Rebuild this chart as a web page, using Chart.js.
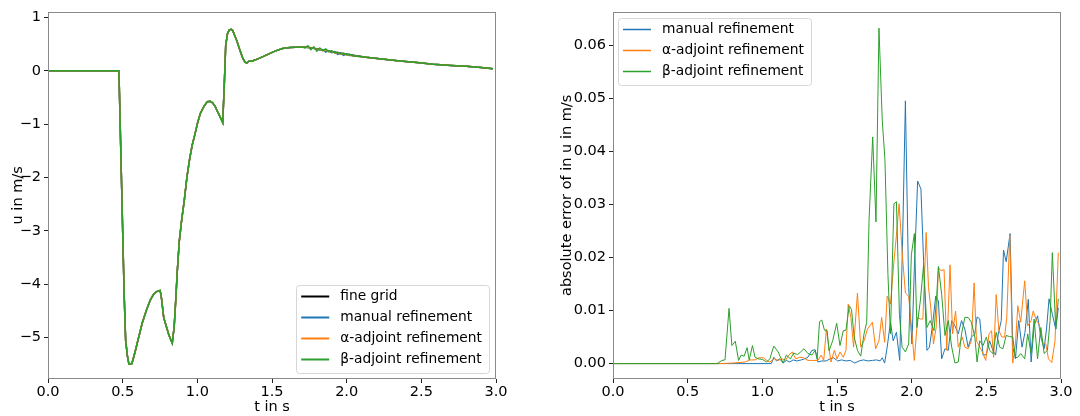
<!DOCTYPE html>
<html>
<head>
<meta charset="utf-8">
<script src="https://cdn.jsdelivr.net/npm/chart.js@4.4.1/dist/chart.umd.min.js"></script>
<style>
  html, body { margin: 0; padding: 0; background: #fff; }
  #wrap { width: 1080px; height: 416px; display: flex; }
  .panel { position: relative; width: 540px; height: 416px; }
</style>
</head>
<body>
<div id="wrap">
  <div class="panel"><canvas id="velChart" width="540" height="416"></canvas></div>
  <div class="panel"><canvas id="errChart" width="540" height="416"></canvas></div>
</div>
<script>
// ---- data: left panel, velocity u(t) [t in s, u in m/s] ----
const fineGrid = [
  [0, 0], [0.475, 0], [0.49, -1.8], [0.51, -4.2], [0.52, -5.06], [0.532, -5.35], [0.542, -5.5],
  [0.562, -5.49], [0.585, -5.25], [0.607, -5.0], [0.632, -4.72], [0.66, -4.48], [0.685, -4.3],
  [0.705, -4.2], [0.727, -4.14], [0.75, -4.12], [0.757, -4.2], [0.775, -4.63], [0.795, -4.82],
  [0.81, -4.96], [0.832, -5.11], [0.845, -4.8], [0.855, -4.32], [0.866, -3.75], [0.879, -3.2],
  [0.895, -2.8], [0.913, -2.42], [0.93, -2.0], [0.948, -1.66], [0.965, -1.4], [0.983, -1.2],
  [1.002, -0.97], [1.02, -0.8], [1.045, -0.66], [1.067, -0.58], [1.087, -0.57], [1.102, -0.6],
  [1.12, -0.67], [1.138, -0.78], [1.152, -0.86], [1.17, -0.97], [1.18, -0.3], [1.19, 0.48],
  [1.202, 0.7], [1.214, 0.77], [1.226, 0.78], [1.236, 0.76], [1.251, 0.66], [1.266, 0.55],
  [1.286, 0.38], [1.304, 0.24], [1.32, 0.16], [1.332, 0.15], [1.345, 0.18], [1.365, 0.18],
  [1.41, 0.23], [1.465, 0.3], [1.52, 0.37], [1.57, 0.42], [1.62, 0.44], [1.7, 0.45], [1.75, 0.44],
  [1.82, 0.4], [1.9, 0.36], [2.0, 0.31], [2.13, 0.255], [2.25, 0.22], [2.357, 0.185],
  [2.47, 0.155], [2.58, 0.125], [2.7, 0.1], [2.8, 0.085], [2.9, 0.065], [2.98, 0.04]
];
// the refined solutions only differ from the fine grid in the wiggly part after t = 1.7
const tailTimes  = [1.72, 1.74, 1.76, 1.78, 1.80, 1.82, 1.84, 1.86, 1.88, 1.90, 1.92, 1.94, 1.96, 1.98, 2.0, 2.02, 2.04];
const tailManual = [0.445, 0.44, 0.43, 0.425, 0.41, 0.39, 0.40, 0.35, 0.38, 0.34, 0.36, 0.31, 0.33, 0.29, 0.32, 0.29, 0.29];
const tailAlpha  = [0.44, 0.445, 0.425, 0.43, 0.40, 0.41, 0.38, 0.39, 0.36, 0.37, 0.33, 0.35, 0.31, 0.33, 0.30, 0.305, 0.285];
const tailBeta   = [0.43, 0.47, 0.40, 0.45, 0.37, 0.43, 0.38, 0.41, 0.36, 0.375, 0.34, 0.35, 0.32, 0.33, 0.305, 0.31, 0.285];

// ---- data: right panel, absolute error [t in s, error in m/s] ----
const manualError = [
  [0, 0], [1.06, 0], [1.077, 0.0012], [1.095, 0.0005], [1.117, 0.0009], [1.139, 0.0001], [1.161, 0.0006],
  [1.184, 0.0003], [1.206, 0.0007], [1.232, 0.0005], [1.261, 0.0007], [1.283, 0.0009], [1.305, 0.0012],
  [1.332, 0.0025], [1.354, 0.0026], [1.372, 0.0003], [1.398, 0.0005], [1.427, 0.0005], [1.454, 0.0009],
  [1.478, 0.0011], [1.504, 0.0005], [1.531, 0.0007], [1.56, 0.0005], [1.588, 0.0006], [1.619, 0.0001],
  [1.648, 0.0005], [1.677, 0.0007], [1.708, 0.0005], [1.737, 0.0006], [1.765, 0.0007], [1.788, 0.0005],
  [1.803, 0.0011], [1.819, 0.0001], [1.836, 0.0031], [1.858, 0.0078], [1.876, 0.0043], [1.898, 0.0059],
  [1.92, 0.0006], [1.94, 0.0242], [1.958, 0.0495], [1.98, 0.0143], [2.002, 0.0037], [2.018, 0.018],
  [2.04, 0.0344], [2.062, 0.0329], [2.08, 0.0192], [2.102, 0.0025], [2.119, 0.0031], [2.139, 0.0071],
  [2.161, 0.0127], [2.179, 0.0118], [2.201, 0.0009], [2.223, 0.0028], [2.245, 0.0025], [2.268, 0.0081],
  [2.29, 0.0071], [2.312, 0.0056], [2.334, 0.0081], [2.356, 0.0065], [2.378, 0.0031], [2.4, 0.005],
  [2.423, 0.0056], [2.438, 0.0088], [2.456, 0.0084], [2.478, 0.0016], [2.5, 0.0017], [2.522, 0.0043],
  [2.544, 0.0025], [2.562, 0.0016], [2.58, 0.0056], [2.6, 0.0081], [2.615, 0.0214], [2.633, 0.0192],
  [2.659, 0.0245], [2.677, 0.0031], [2.695, 0.0009], [2.717, 0.0081], [2.739, 0.0031], [2.759, 0.0059],
  [2.781, 0.0121], [2.8, 0.0003], [2.82, 0.0071], [2.843, 0.009], [2.865, 0.005], [2.887, 0.0028],
  [2.903, 0.0065], [2.92, 0.0122], [2.942, 0.0093], [2.965, 0.0065], [2.982, 0.0105]
];
const alphaError = [
  [0, 0], [0.708, 0], [0.8, 0.0001], [0.885, 0.0003], [0.918, 0.0007], [0.951, 0.0007], [0.978, 0.0011],
  [1.007, 0.0011], [1.029, 0.0006], [1.05, 0.0003], [1.08, 0.0009], [1.106, 0.0006], [1.133, 0.0009],
  [1.155, 0.0006], [1.177, 0.0016], [1.201, 0.0022], [1.223, 0.0009], [1.25, 0.0012], [1.276, 0.0011],
  [1.305, 0.0006], [1.338, 0.0006], [1.372, 0.0006], [1.394, 0.0016], [1.411, 0.0006], [1.429, 0.0065],
  [1.445, 0.0031], [1.46, 0.0003], [1.482, 0.0025], [1.5, 0.0009], [1.52, 0.0022], [1.542, 0.0012],
  [1.56, 0.0025], [1.575, 0.0112], [1.593, 0.0087], [1.611, 0.0031], [1.637, 0.0133], [1.659, 0.0031],
  [1.681, 0.0043], [1.704, 0.0065], [1.737, 0.0078], [1.759, 0.0028], [1.781, 0.0043], [1.799, 0.0087],
  [1.819, 0.004], [1.836, 0.0127], [1.858, 0.0112], [1.881, 0.0192], [1.898, 0.0242], [1.916, 0.0301],
  [1.936, 0.0211], [1.958, 0.0133], [1.98, 0.0127], [2.002, 0.0056], [2.018, 0.0006], [2.04, 0.0087],
  [2.058, 0.0084], [2.075, 0.0084], [2.097, 0.0247], [2.113, 0.0143], [2.128, 0.0105], [2.146, 0.0037],
  [2.164, 0.0068], [2.179, 0.0181], [2.197, 0.0175], [2.217, 0.0177], [2.235, 0.0025], [2.257, 0.0186],
  [2.274, 0.0056], [2.294, 0.0099], [2.312, 0.0031], [2.339, 0.005], [2.356, 0.0031], [2.378, 0.0028],
  [2.4, 0.0043], [2.418, 0.0152], [2.434, 0.0043], [2.451, 0.0034], [2.473, 0.0022], [2.496, 0.0006],
  [2.518, 0.0056], [2.535, 0.0062], [2.549, 0.0012], [2.566, 0.013], [2.584, 0.0062], [2.604, 0.005],
  [2.622, 0.005], [2.637, 0.0087], [2.657, 0.0242], [2.677, 0.0001], [2.695, 0.0037], [2.711, 0.0109],
  [2.73, 0.0078], [2.757, 0.0156], [2.777, 0.0071], [2.8, 0.0081], [2.814, 0.0099], [2.836, 0.0081],
  [2.854, 0.0074], [2.876, 0.004], [2.898, 0.0037], [2.916, 0.0009], [2.938, 0.0002], [2.96, 0.0043],
  [2.982, 0.0209]
];
const betaError = [
  [0, 0], [0.697, 0], [0.73, 0.0006], [0.75, 0.0007], [0.777, 0.0104], [0.796, 0.0034], [0.819, 0.0042],
  [0.841, 0.0006], [0.858, 0.0016], [0.878, 0.0014], [0.898, 0.003], [0.912, 0.0007], [0.934, 0.0034],
  [0.951, 0.0012], [0.973, 0.0009], [1.0, 0.0008], [1.029, 0.0003], [1.05, 0.0009], [1.077, 0.0033],
  [1.106, 0.0022], [1.139, 0.0001], [1.161, 0.0016], [1.188, 0.0009], [1.21, 0.002], [1.235, 0.0017],
  [1.257, 0.0022], [1.279, 0.0028], [1.305, 0.0019], [1.332, 0.0016], [1.354, 0.0025], [1.367, 0.0009],
  [1.383, 0.0079], [1.398, 0.0082], [1.416, 0.0063], [1.434, 0.0062], [1.447, 0.0024], [1.471, 0.0043],
  [1.498, 0.0076], [1.52, 0.0034], [1.542, 0.0062], [1.56, 0.0063], [1.582, 0.0109], [1.597, 0.0102],
  [1.615, 0.005], [1.637, 0.0025], [1.659, 0.0014], [1.681, 0.0056], [1.699, 0.0078], [1.715, 0.0273],
  [1.739, 0.0427], [1.761, 0.0267], [1.781, 0.0632], [1.803, 0.0459], [1.821, 0.0385], [1.841, 0.0168],
  [1.858, 0.0056], [1.881, 0.0301], [1.898, 0.0305], [1.918, 0.0093], [1.936, 0.0031], [1.958, 0.0022],
  [1.98, 0.0037], [1.998, 0.0205], [2.018, 0.0245], [2.035, 0.0068], [2.058, 0.0118], [2.08, 0.0186],
  [2.102, 0.0068], [2.124, 0.0081], [2.15, 0.0062], [2.168, 0.013], [2.179, 0.0183], [2.201, 0.013],
  [2.223, 0.0053], [2.245, 0.0081], [2.268, 0.0031], [2.29, 0.0001], [2.312, 0.0003], [2.334, 0.0056],
  [2.356, 0.0087], [2.378, 0.0087], [2.4, 0.0078], [2.423, 0.005], [2.438, 0.0003], [2.456, 0.0043],
  [2.478, 0.0034], [2.5, 0.005], [2.522, 0.0025], [2.544, 0.0019], [2.566, 0.0059], [2.589, 0.0031],
  [2.611, 0.0028], [2.633, 0.0053], [2.655, 0.0051], [2.677, 0.005], [2.695, 0.0011], [2.711, 0.0012],
  [2.73, 0.0019], [2.757, 0.0009], [2.777, 0.0056], [2.8, 0.0019], [2.82, 0.0084], [2.843, 0.0009],
  [2.865, 0.0068], [2.887, 0.0019], [2.909, 0.0025], [2.927, 0.0081], [2.942, 0.0209], [2.965, 0.0065],
  [2.982, 0.0122]
];

const timeTicks = [0, 0.5, 1.0, 1.5, 2.0, 2.5, 3.0];
const velTicks = [-5, -4, -3, -2, -1, 0, 1];
const errTicks = [0, 0.01, 0.02, 0.03, 0.04, 0.05, 0.06];

const COLORS = { fine: '#000000', manual: '#1f77b4', alpha: '#ff7f0e', beta: '#2ca02c' };
const FONT = '"DejaVu Sans", "Liberation Sans", sans-serif';

Chart.defaults.font.family = FONT;
Chart.defaults.font.size = 14.5;
Chart.defaults.color = '#000';

function withTail(values) {
    const lo = tailTimes[0], hi = tailTimes[tailTimes.length - 1];
    const tail = tailTimes.map((t, i) => [t, values[i]]);
    return fineGrid.filter(p => p[0] < lo).concat(tail, fineGrid.filter(p => p[0] > hi));
}

const toXY = arr => arr.map(([x, y]) => ({ x, y }));

// axis box like matplotlib: all four spines
const framePlugin = {
    id: 'frame',
    afterDatasetsDraw(chart) {
        const { ctx, chartArea: a } = chart;
        ctx.save();
        ctx.strokeStyle = '#8a8a8a';
        ctx.lineWidth = 1;
        ctx.strokeRect(Math.round(a.left) + 0.5, Math.round(a.top) + 0.5,
            Math.round(a.right - a.left) - 1, Math.round(a.bottom - a.top) - 1);
        ctx.restore();
    }
};

// legend drawn inside the plot area with a rounded frame
const boxLegend = {
    id: 'boxLegend',
    afterDraw(chart, args, opts) {
        const { ctx, chartArea: a } = chart;
        const sets = chart.data.datasets;
        const rowH = 21;
        ctx.save();
        ctx.font = opts.fontSize + 'px ' + FONT;
        const textW = Math.max(...sets.map(d => ctx.measureText(d.label).width));
        const w = 44 + textW + 7;
        const h = sets.length * rowH + 4;
        const x = opts.corner === 'lr' ? a.right - 7 - w : a.left + 5;
        const y = opts.corner === 'lr' ? a.bottom - 6 - h : a.top + 6;
        ctx.fillStyle = 'rgba(255,255,255,0.8)';
        ctx.strokeStyle = '#d6d6d6';
        ctx.lineWidth = 1;
        ctx.beginPath();
        ctx.roundRect(Math.round(x) + 0.5, Math.round(y) + 0.5, Math.round(w), Math.round(h), 3);
        ctx.fill();
        ctx.stroke();
        sets.forEach((d, i) => {
            const cy = Math.round(y + 11 + i * rowH) + 0.5;
            ctx.strokeStyle = d.borderColor;
            ctx.lineWidth = opts.lineWidth;
            ctx.beginPath();
            ctx.moveTo(x + 5, cy);
            ctx.lineTo(x + 33, cy);
            ctx.stroke();
            ctx.fillStyle = '#000';
            ctx.textBaseline = 'middle';
            ctx.fillText(d.label, x + 44, cy);
        });
        ctx.restore();
    }
};

function line(label, color, points, width, order) {
    return {
        label, data: toXY(points), borderColor: color, backgroundColor: color,
        borderWidth: width, pointRadius: 0, tension: 0, fill: false, order
    };
}

function axes(yMin, yMax, yTicks, yFormat, yTitle, yWidth, yTitlePad) {
    const tickGrid = { display: true, drawOnChartArea: false, drawTicks: true, tickLength: 4, color: '#222' };
    return {
        x: {
            type: 'linear', min: 0, max: 3,
            afterBuildTicks: s => { s.ticks = timeTicks.map(v => ({ value: v })); },
            afterFit: s => { s.height = 37; },
            ticks: { callback: v => v.toFixed(1), padding: 1, maxRotation: 0 },
            grid: tickGrid, border: { display: false },
            title: { display: true, text: 't in s', padding: { top: 0, bottom: 0 } }
        },
        y: {
            type: 'linear', min: yMin, max: yMax,
            afterBuildTicks: s => { s.ticks = yTicks.map(v => ({ value: v })); },
            afterFit: s => { s.width = yWidth; },
            ticks: { callback: yFormat, padding: 3 },
            grid: tickGrid, border: { display: false },
            title: { display: true, text: yTitle, padding: { top: yTitlePad, bottom: 0 } }
        }
    };
}

new Chart(document.getElementById('velChart'), {
    type: 'line',
    data: {
        datasets: [
            line('fine grid', COLORS.fine, fineGrid, 1.5, 4),
            line('manual refinement', COLORS.manual, withTail(tailManual), 1.5, 3),
            line('\u03b1-adjoint refinement', COLORS.alpha, withTail(tailAlpha), 1.5, 2),
            line('\u03b2-adjoint refinement', COLORS.beta, withTail(tailBeta), 1.5, 1)
        ]
    },
    options: {
        responsive: false, animation: false,
        layout: { padding: { left: 0, right: 44, top: 8, bottom: 0 } },
        plugins: { legend: { display: false }, tooltip: { enabled: false },
            boxLegend: { corner: 'lr', lineWidth: 2, fontSize: 13.8 } },
        scales: axes(-5.78, 1.11, velTicks, v => v < 0 ? '\u2212' + Math.abs(v) : String(v), 'u in m/s', 48, 10)
    },
    plugins: [framePlugin, boxLegend]
});

new Chart(document.getElementById('errChart'), {
    type: 'line',
    data: {
        datasets: [
            line('manual refinement', COLORS.manual, manualError, 1, 3),
            line('\u03b1-adjoint refinement', COLORS.alpha, alphaError, 1, 2),
            line('\u03b2-adjoint refinement', COLORS.beta, betaError, 1, 1)
        ]
    },
    options: {
        responsive: false, animation: false,
        layout: { padding: { left: 0, right: 19, top: 8, bottom: 0 } },
        plugins: { legend: { display: false }, tooltip: { enabled: false },
            boxLegend: { corner: 'ul', lineWidth: 1.5, fontSize: 13.8 } },
        scales: axes(-0.0029, 0.0663, errTicks, v => v.toFixed(2), 'absolute error of in u in m/s', 73, 19)
    },
    plugins: [framePlugin, boxLegend]
});
</script>
</body>
</html>
